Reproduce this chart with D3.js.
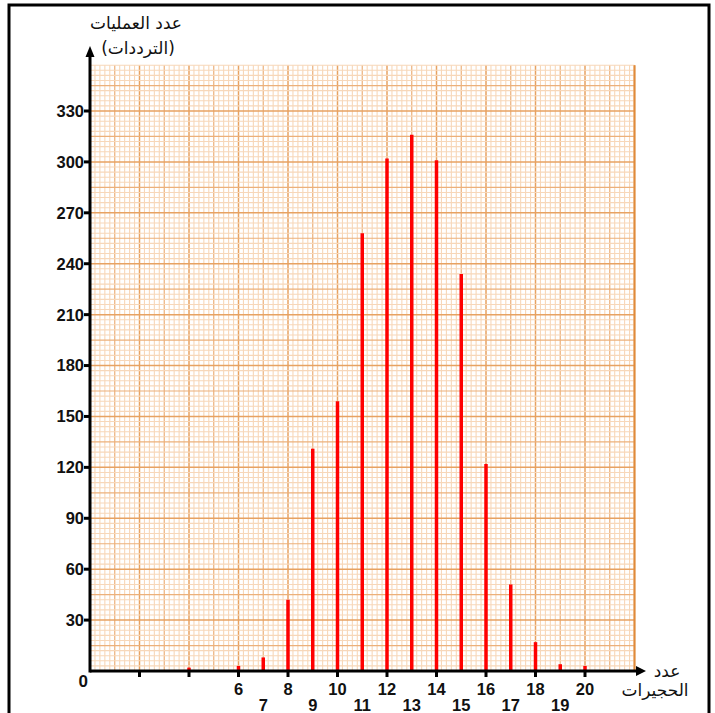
<!DOCTYPE html>
<html><head><meta charset="utf-8">
<script src="https://cdn.jsdelivr.net/npm/d3@7"></script>
<style>html,body{margin:0;padding:0;background:#fff;}svg{display:block;}</style>
</head><body>
<script>
// Data
const categories = [4, 6, 7, 8, 9, 10, 11, 12, 13, 14, 15, 16, 17, 18, 19, 20];
const frequencies = [2, 3, 8, 42, 131, 159, 258, 302, 316, 301, 234, 122, 51, 17, 4, 3];
const yTicks = [30, 60, 90, 120, 150, 180, 210, 240, 270, 300, 330];
const xTickLabels = [6, 7, 8, 9, 10, 11, 12, 13, 14, 15, 16, 17, 18, 19, 20];
const yTitle = ["عدد العمليات", "(الترددات)"];
const xTitle = ["عدد", "الحجيرات"];

const W = 715, H = 713;
const svg = d3.select("body").append("svg").attr("width", W).attr("height", H);

const x = d3.scaleLinear().domain([0, 20]).range([90, 585]);
const y = d3.scaleLinear().domain([0, 330]).range([671, 111]);
const xMax = 22, yMax = 357;

// frame
svg.append("path").attr("d", `M9,713 V5 H709 V713`).attr("fill", "none").attr("stroke", "#000").attr("stroke-width", 3);

// grid paper
const g = svg.append("g");
g.append("rect").attr("x", x(0)).attr("y", y(yMax)).attr("width", x(xMax) - x(0)).attr("height", y(0) - y(yMax)).attr("fill", "#fff");
const fineV = d3.range(0, xMax + 0.001, 0.2);
const fineH = d3.range(0, yMax + 0.001, 3);
const col = r => r % 10 === 0 ? "#e7a262" : (r % 5 === 0 ? "#ecb07a" : "#f7d7b9");
const wid = r => r % 10 === 0 ? 1.5 : (r % 5 === 0 ? 1.2 : 1.1);
g.selectAll(".fv").data(fineV).join("line")
  .attr("x1", d => x(d)).attr("x2", d => x(d)).attr("y1", y(0)).attr("y2", y(yMax))
  .attr("stroke", d => col(Math.round(d * 5))).attr("stroke-width", d => wid(Math.round(d * 5)));
g.selectAll(".fh").data(fineH).join("line")
  .attr("y1", d => y(d)).attr("y2", d => y(d)).attr("x1", x(0)).attr("x2", x(xMax))
  .attr("stroke", d => col(Math.round(d / 3))).attr("stroke-width", d => wid(Math.round(d / 3)));
g.append("line").attr("x1", x(xMax)).attr("x2", x(xMax)).attr("y1", y(0)).attr("y2", y(yMax)).attr("stroke", "#e08a3a").attr("stroke-width", 2);

// bars
svg.selectAll(".bar").data(categories).join("line")
  .attr("x1", d => x(d)).attr("x2", d => x(d))
  .attr("y1", y(0)).attr("y2", (d, i) => y(frequencies[i]))
  .attr("stroke", "#ff0000").attr("stroke-width", 3.5);

// axes
svg.append("line").attr("x1", x(0)).attr("x2", 640).attr("y1", y(0)).attr("y2", y(0)).attr("stroke", "#000").attr("stroke-width", 3);
svg.append("path").attr("d", `M646,${y(0)} L636,${y(0) - 5} L636,${y(0) + 5} Z`).attr("fill", "#000");
svg.append("line").attr("x1", x(0)).attr("x2", x(0)).attr("y1", y(0) + 1.5).attr("y2", 54).attr("stroke", "#000").attr("stroke-width", 3);
svg.append("path").attr("d", `M${x(0)},46 L${x(0) - 4.5},57 L${x(0) + 4.5},57 Z`).attr("fill", "#000");

// y ticks
svg.selectAll(".yt").data(yTicks).join("line")
  .attr("x1", x(0) - 6).attr("x2", x(0)).attr("y1", d => y(d)).attr("y2", d => y(d))
  .attr("stroke", "#000").attr("stroke-width", 3);
svg.selectAll(".yl").data(yTicks).join("text")
  .attr("x", x(0) - 6).attr("y", d => y(d)).attr("dy", "0.36em")
  .attr("text-anchor", "end").attr("font-family", "Liberation Sans, Arial, sans-serif")
  .attr("font-weight", "bold").attr("font-size", 16.5).attr("fill", "#111").text(d => d);
svg.append("text").attr("x", x(0) - 2).attr("y", y(0) + 16).attr("text-anchor", "end")
  .attr("font-family", "Liberation Sans, Arial, sans-serif").attr("font-weight", "bold")
  .attr("font-size", 17).attr("fill", "#111").text("0");

// x ticks (every 2 units)
svg.selectAll(".xt").data(d3.range(2, 21, 2)).join("line")
  .attr("x1", d => x(d)).attr("x2", d => x(d)).attr("y1", y(0)).attr("y2", y(0) + 6)
  .attr("stroke", "#000").attr("stroke-width", 3);
svg.selectAll(".xl").data(xTickLabels).join("text")
  .attr("x", d => x(d)).attr("y", d => d % 2 === 0 ? 695 : 711)
  .attr("text-anchor", "middle").attr("font-family", "Liberation Sans, Arial, sans-serif")
  .attr("font-weight", "bold").attr("font-size", 16.5).attr("fill", "#111").text(d => d);

// titles
const ar = "DejaVu Sans, Noto Sans, sans-serif";
svg.append("text").attr("x", 136).attr("y", 29).attr("text-anchor", "middle").attr("font-family", ar).attr("font-size", 17).attr("fill", "#111").text(yTitle[0]);
svg.append("text").attr("x", 138).attr("y", 54).attr("text-anchor", "middle").attr("font-family", ar).attr("font-size", 17).attr("fill", "#111").text(yTitle[1]);
svg.append("text").attr("x", 667).attr("y", 677).attr("text-anchor", "middle").attr("font-family", ar).attr("font-size", 17).attr("fill", "#111").text(xTitle[0]);
svg.append("text").attr("x", 655).attr("y", 696).attr("text-anchor", "middle").attr("font-family", ar).attr("font-size", 17).attr("fill", "#111").text(xTitle[1]);
</script>
</body></html>
